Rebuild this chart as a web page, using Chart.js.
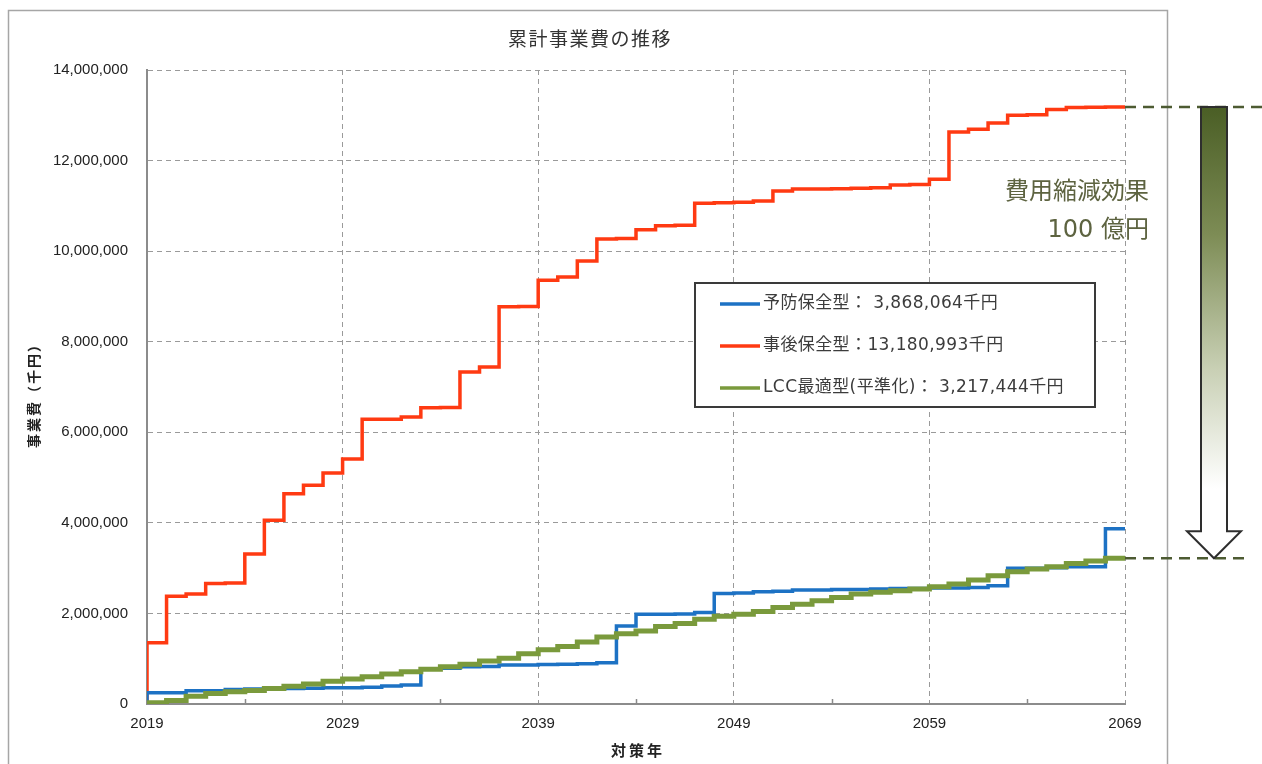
<!DOCTYPE html>
<html>
<head>
<meta charset="utf-8">
<title>累計事業費の推移</title>
<script src="https://cdn.jsdelivr.net/npm/chart.js@4.4.1/dist/chart.umd.min.js"></script>
<style>
  html, body { margin: 0; padding: 0; background: #ffffff; }
  canvas { display: block; }
</style>
</head>
<body>
<canvas id="chart" width="1262" height="764"></canvas>
<script>
// 対策年（各年の累計値を保持する区間の開始年）
const years = [
  2019, 2020, 2021, 2022, 2023, 2024, 2025, 2026, 2027, 2028,
  2029, 2030, 2031, 2032, 2033, 2034, 2035, 2036, 2037, 2038,
  2039, 2040, 2041, 2042, 2043, 2044, 2045, 2046, 2047, 2048,
  2049, 2050, 2051, 2052, 2053, 2054, 2055, 2056, 2057, 2058,
  2059, 2060, 2061, 2062, 2063, 2064, 2065, 2066, 2067, 2068
];
const endYear = 2069;

// 軸目盛
const xTickYears = [2019, 2029, 2039, 2049, 2059, 2069];
const minorTickYears = [2024, 2034, 2044, 2054, 2064];
const yTicks = [0, 2000000, 4000000, 6000000, 8000000, 10000000, 12000000, 14000000];

// 累計事業費（千円）
const preventive = [
  250000, 250000, 290000, 290000, 320000, 330000, 330000, 340000, 350000, 360000,
  360000, 370000, 400000, 420000, 780000, 790000, 820000, 830000, 860000, 860000,
  870000, 880000, 890000, 910000, 1720000, 1980000, 1980000, 1990000, 2020000, 2440000,
  2450000, 2480000, 2490000, 2520000, 2520000, 2530000, 2530000, 2540000, 2550000, 2550000,
  2560000, 2560000, 2570000, 2610000, 3000000, 3000000, 3010000, 3030000, 3030000, 3868064
];
const reactive = [
  1350000, 2380000, 2430000, 2660000, 2670000, 3310000, 4060000, 4640000, 4830000, 5100000,
  5410000, 6290000, 6290000, 6340000, 6540000, 6550000, 7330000, 7440000, 8770000, 8780000,
  9360000, 9430000, 9780000, 10270000, 10280000, 10470000, 10560000, 10570000, 11060000, 11070000,
  11080000, 11110000, 11330000, 11370000, 11370000, 11380000, 11390000, 11400000, 11460000, 11470000,
  11590000, 12630000, 12690000, 12830000, 13000000, 13010000, 13130000, 13170000, 13180000, 13180993
];
const lccLevel = [
  30000, 80000, 170000, 230000, 270000, 300000, 340000, 390000, 440000, 500000,
  550000, 600000, 660000, 710000, 770000, 820000, 880000, 950000, 1010000, 1110000,
  1200000, 1270000, 1370000, 1480000, 1550000, 1610000, 1710000, 1780000, 1870000, 1940000,
  1980000, 2040000, 2130000, 2200000, 2280000, 2350000, 2430000, 2470000, 2500000, 2540000,
  2590000, 2650000, 2740000, 2830000, 2920000, 2980000, 3030000, 3100000, 3160000, 3217444
];

const seriesNames = ['予防保全型', '事後保全型', 'LCC最適型(平準化)'];
const seriesColors = ['#1d72c4', '#ff3a12', '#7a9a3c'];

const JP = "'Noto Sans CJK JP', 'Noto Sans', sans-serif";
const NUM = "'Liberation Sans', 'DejaVu Sans', sans-serif";
const fmt = v => v.toLocaleString('en-US');

// 階段状の累計線：0 から立ち上がり、最終年の値を終端年まで保持
function stepPoints(vals) {
  const pts = [{ x: years[0], y: 0 }];
  vals.forEach((v, i) => pts.push({ x: years[i], y: v }));
  pts.push({ x: endYear, y: vals[vals.length - 1] });
  return pts;
}
const seriesValues = [preventive, reactive, lccLevel];
const lineWidths = [3.5, 3.5, 5];
const drawOrder = [1, 2, 0];

const datasets = seriesValues.map((vals, i) => ({
  label: seriesNames[i],
  data: stepPoints(vals),
  borderColor: seriesColors[i],
  backgroundColor: seriesColors[i],
  borderWidth: lineWidths[i],
  stepped: true,
  pointRadius: 0,
  fill: false,
  order: drawOrder[i]
}));

function withSpacing(ctx, spacing, fn) {
  const prev = ctx.letterSpacing;
  ctx.letterSpacing = spacing;
  fn();
  ctx.letterSpacing = prev || '0px';
}

const decorPlugin = {
  id: 'decor',
  beforeDraw(chart) {
    const ctx = chart.ctx;
    ctx.save();
    ctx.fillStyle = '#ffffff';
    ctx.fillRect(0, 0, chart.width, chart.height);
    // 図の外枠
    ctx.strokeStyle = '#a6a6a6';
    ctx.lineWidth = 1.5;
    ctx.strokeRect(8.5, 10.5, 1159, 800);
    ctx.restore();
  },
  afterDraw(chart) {
    const ctx = chart.ctx;
    const xs = chart.scales.x, ys = chart.scales.y;
    const area = chart.chartArea;
    ctx.save();

    // 横軸の補助目盛（内向き）
    ctx.strokeStyle = '#8a8a8a';
    ctx.lineWidth = 1.5;
    minorTickYears.forEach(yr => {
      const px = Math.round(xs.getPixelForValue(yr)) + 0.5;
      ctx.beginPath();
      ctx.moveTo(px, area.bottom);
      ctx.lineTo(px, area.bottom - 5);
      ctx.stroke();
    });

    // タイトル
    ctx.fillStyle = '#333333';
    ctx.textAlign = 'center';
    ctx.textBaseline = 'middle';
    ctx.font = `19px ${JP}`;
    withSpacing(ctx, '1.5px', () => ctx.fillText('累計事業費の推移', 590, 39));

    // 軸タイトル
    ctx.fillStyle = '#222222';
    ctx.font = `bold 15px ${JP}`;
    withSpacing(ctx, '3px', () => ctx.fillText('対策年', 638, 750));
    ctx.save();
    ctx.translate(34, 392);
    ctx.rotate(-Math.PI / 2);
    ctx.font = `bold 14px ${JP}`;
    withSpacing(ctx, '2px', () => ctx.fillText('事業費（千円）', 0, 0));
    ctx.restore();

    // 凡例
    const lx = 695, ly = 283, lw = 400, lh = 124;
    ctx.fillStyle = '#ffffff';
    ctx.fillRect(lx, ly, lw, lh);
    ctx.strokeStyle = '#3a3a3a';
    ctx.lineWidth = 2;
    ctx.strokeRect(lx, ly, lw, lh);
    const rowY = [304, 346, 388];
    ctx.textAlign = 'left';
    ctx.textBaseline = 'middle';
    ctx.font = `17px 'DejaVu Sans', ${JP}`;
    chart.data.datasets.forEach((ds, i) => {
      ctx.strokeStyle = ds.borderColor;
      ctx.lineWidth = 3.5;
      ctx.beginPath();
      ctx.moveTo(720, rowY[i]);
      ctx.lineTo(760, rowY[i]);
      ctx.stroke();
      const vals = seriesValues[i];
      const total = vals[vals.length - 1];
      const pad = total < 10000000 ? ' ' : '';
      ctx.fillStyle = '#3c3c3c';
      withSpacing(ctx, '0.4px', () =>
        ctx.fillText(`${ds.label}：${pad}${fmt(total)}千円`, 763, rowY[i]));
    });

    // 費用縮減効果の注記
    const yHigh = ys.getPixelForValue(reactive[reactive.length - 1]);
    const yLow = ys.getPixelForValue(lccLevel[lccLevel.length - 1]);
    ctx.strokeStyle = '#4d5b32';
    ctx.lineWidth = 2.5;
    ctx.setLineDash([11, 7]);
    ctx.beginPath();
    ctx.moveTo(area.right, yHigh);
    ctx.lineTo(1262, yHigh);
    ctx.moveTo(area.right, yLow);
    ctx.lineTo(1250, yLow);
    ctx.stroke();
    ctx.setLineDash([]);

    // 縮減幅を示す矢印
    const sx1 = 1201, sx2 = 1227, hx1 = 1187, hx2 = 1241, cx = 1214;
    const headTop = yLow - 27;
    const grad = ctx.createLinearGradient(0, yHigh, 0, headTop);
    grad.addColorStop(0, '#4a5e25');
    grad.addColorStop(0.3, '#7d8c55');
    grad.addColorStop(0.62, '#c9d0b5');
    grad.addColorStop(0.9, '#ffffff');
    grad.addColorStop(1, '#ffffff');
    ctx.beginPath();
    ctx.moveTo(sx1, yHigh);
    ctx.lineTo(sx2, yHigh);
    ctx.lineTo(sx2, headTop);
    ctx.lineTo(hx2, headTop);
    ctx.lineTo(cx, yLow);
    ctx.lineTo(hx1, headTop);
    ctx.lineTo(sx1, headTop);
    ctx.closePath();
    ctx.fillStyle = grad;
    ctx.fill();
    ctx.strokeStyle = '#2e2e2e';
    ctx.lineWidth = 2;
    ctx.lineJoin = 'miter';
    ctx.stroke();

    ctx.fillStyle = '#5d6340';
    ctx.textAlign = 'right';
    ctx.textBaseline = 'middle';
    ctx.font = `24px ${JP}`;
    ctx.fillText('費用縮減効果', 1149, 190);
    ctx.font = `24px 'DejaVu Sans', ${JP}`;
    ctx.fillText('100 億円', 1149, 231);

    ctx.restore();
  }
};

const gridStyle = { color: '#9a9a9a', lineWidth: 1, drawTicks: false };
const borderStyle = { color: '#8c8c8c', width: 2, dash: [5, 4] };

new Chart(document.getElementById('chart'), {
  type: 'line',
  data: { datasets },
  options: {
    responsive: false,
    devicePixelRatio: 1,
    animation: false,
    layout: { padding: { left: 0, top: 70, right: 137, bottom: 0 } },
    plugins: {
      legend: { display: false },
      tooltip: { enabled: false },
      title: { display: false }
    },
    elements: { line: { borderCapStyle: 'butt', borderJoinStyle: 'miter', tension: 0 } },
    scales: {
      x: {
        type: 'linear',
        min: years[0],
        max: endYear,
        afterBuildTicks: s => { s.ticks = xTickYears.map(v => ({ value: v })); },
        afterFit: s => { s.height = 60; },
        ticks: {
          autoSkip: false,
          maxRotation: 0,
          padding: 11,
          color: '#222222',
          font: { family: NUM, size: 15 },
          callback: v => String(v)
        },
        grid: gridStyle,
        border: borderStyle
      },
      y: {
        type: 'linear',
        min: yTicks[0],
        max: yTicks[yTicks.length - 1],
        afterBuildTicks: s => { s.ticks = yTicks.map(v => ({ value: v })); },
        afterFit: s => { s.width = 147; },
        ticks: {
          padding: 19,
          color: '#222222',
          font: { family: NUM, size: 15 },
          callback: v => fmt(v)
        },
        grid: gridStyle,
        border: borderStyle
      }
    }
  },
  plugins: [decorPlugin]
});
</script>
</body>
</html>
